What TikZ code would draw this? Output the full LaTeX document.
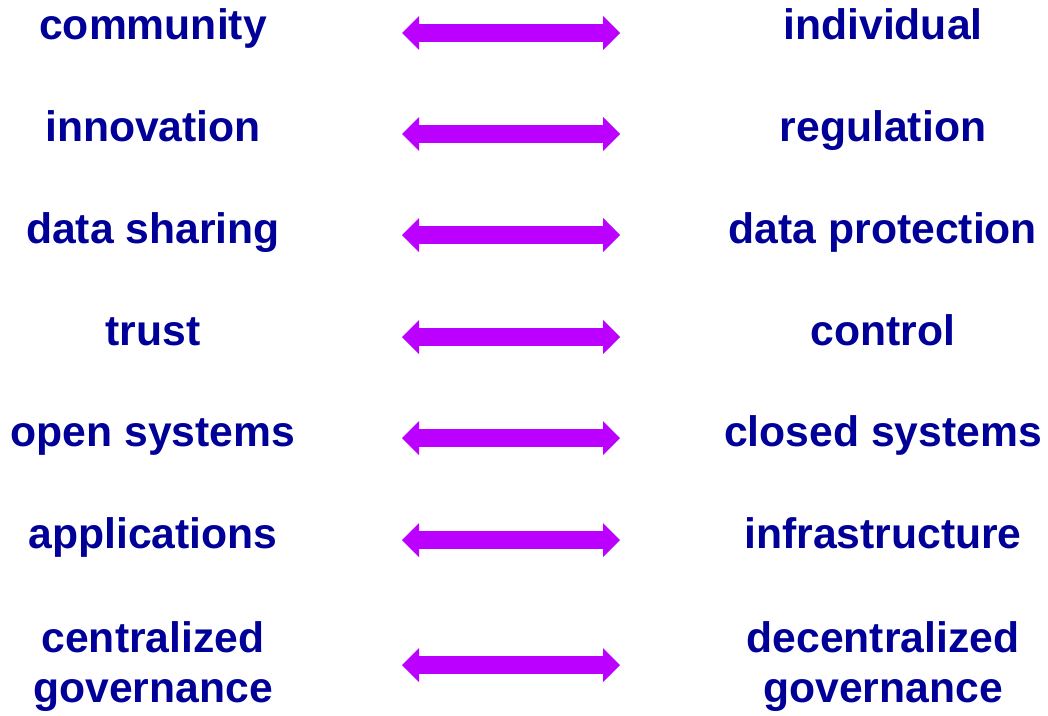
\documentclass[tikz,border=0pt]{standalone}
\usepackage{fontspec}
\setmainfont{Liberation Sans}
\usepackage{tikz}
\usetikzlibrary{arrows.meta}
\definecolor{tnavy}{RGB}{0,0,153}
\definecolor{tviolet}{RGB}{187,0,255}

\begin{document}
\begin{tikzpicture}[x=0.75pt, y=-0.75pt,
  term/.style={font=\fontsize{32}{37.5}\selectfont\bfseries, text=tnavy, inner sep=0pt, align=center},
  pullarrow/.style={{Triangle[length=12.75pt, width=25.5pt, line width=0pt]}-{Triangle[length=12.75pt, width=25.5pt, line width=0pt]}, line width=13.5pt, draw=tviolet, fill=tviolet}]
  \fill[white] (0,0) rectangle (1048,715);
  \useasboundingbox (0,0) rectangle (1048,715);

  % Row 1
  \node[term, anchor=base] (comm) at (153,39) {community};
  \node[term, anchor=base] (indiv) at (883,39) {individual};
  \coordinate (a1l) at (402,33);
  \coordinate (a1r) at (620,33);
  \draw[pullarrow] (a1l) -- (a1r);

  % Row 2
  \node[term, anchor=base] (innov) at (153,141) {innovation};
  \node[term, anchor=base] (regul) at (883,141) {regulation};
  \coordinate (a2l) at (402,134);
  \coordinate (a2r) at (620,134);
  \draw[pullarrow] (a2l) -- (a2r);

  % Row 3
  \node[term, anchor=base] (share) at (153,243) {data sharing};
  \node[term, anchor=base] (prot) at (883,243) {data protection};
  \coordinate (a3l) at (402,235);
  \coordinate (a3r) at (620,235);
  \draw[pullarrow] (a3l) -- (a3r);

  % Row 4
  \node[term, anchor=base] (trust) at (153,345) {trust};
  \node[term, anchor=base] (ctrl) at (883,345) {control};
  \coordinate (a4l) at (402,337);
  \coordinate (a4r) at (620,337);
  \draw[pullarrow] (a4l) -- (a4r);

  % Row 5
  \node[term, anchor=base] (open) at (153,446) {open systems};
  \node[term, anchor=base] (closed) at (883,446) {closed systems};
  \coordinate (a5l) at (402,438);
  \coordinate (a5r) at (620,438);
  \draw[pullarrow] (a5l) -- (a5r);

  % Row 6
  \node[term, anchor=base] (apps) at (153,548) {applications};
  \node[term, anchor=base] (infra) at (883,548) {infrastructure};
  \coordinate (a6l) at (402,540);
  \coordinate (a6r) at (620,540);
  \draw[pullarrow] (a6l) -- (a6r);

  % Row 7, two lines each
  \node[term] (cgov) at (153,667) {centralized\\governance};
  \node[term] (dgov) at (883,667) {decentralized\\governance};
  \coordinate (a7l) at (402,665);
  \coordinate (a7r) at (620,665);
  \draw[pullarrow] (a7l) -- (a7r);
\end{tikzpicture}
\end{document}
